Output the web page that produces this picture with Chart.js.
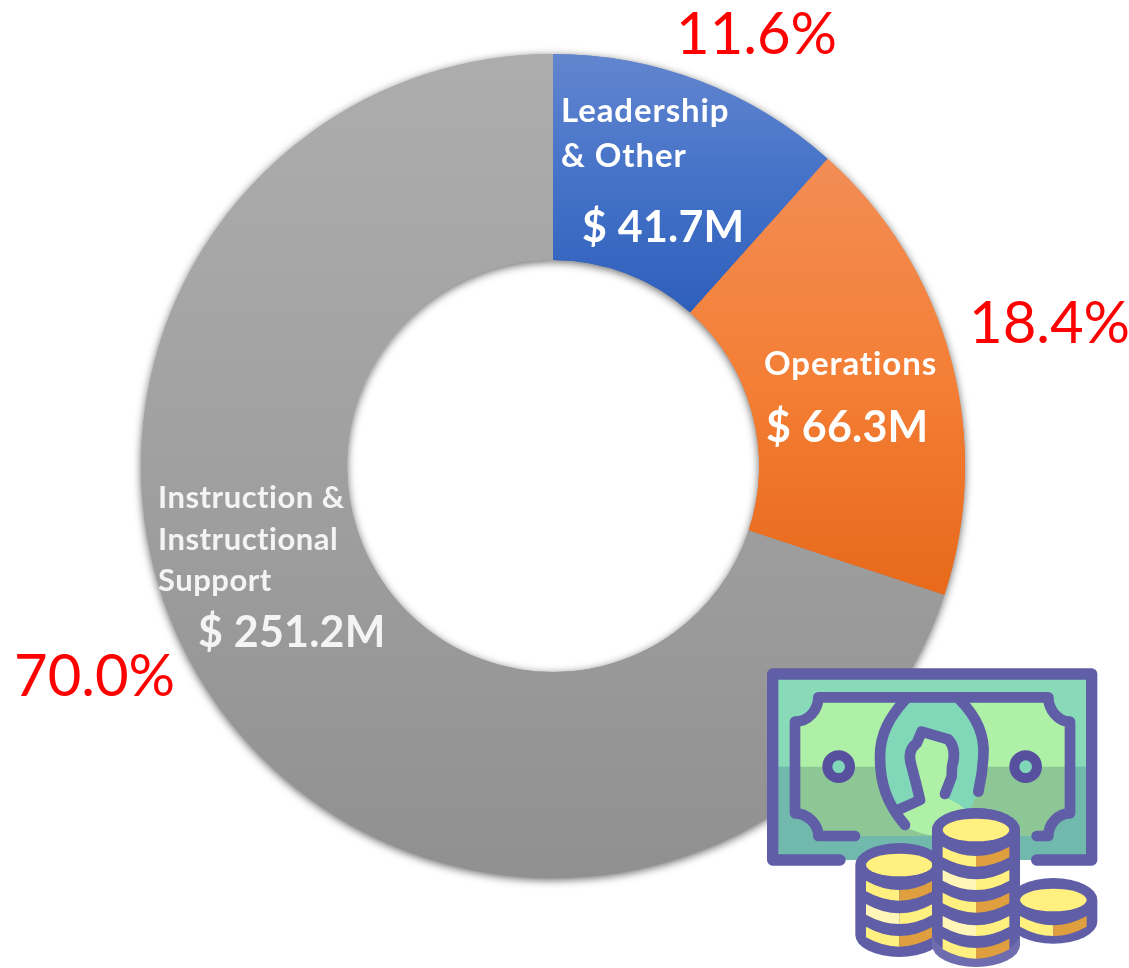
<!DOCTYPE html>
<html>
<head>
<meta charset="utf-8">
<title>Budget by category</title>
<script src="https://cdn.jsdelivr.net/npm/chart.js@4"></script>
<style>
  body { margin: 0; background: #fff; overflow: hidden; }
  #wrap { position: relative; width: 1129px; height: 968px; }
  #moneyIcon { position: absolute; left: 740px; top: 650px; }
</style>
</head>
<body>
<div id="wrap">
  <canvas id="budgetChart" width="1129" height="968"></canvas>
  <svg id="moneyIcon" width="380" height="318" viewBox="0 0 1140 954"></svg>
</div>
<script>
// chart values
const categories = ['Leadership & Other', 'Operations', 'Instruction & Instructional Support'];
const amounts = [41.7, 66.3, 251.2];
const amountLabels = ['$ 41.7M', '$ 66.3M', '$ 251.2M'];
const shareLabels = ['11.6%', '18.4%', '70.0%'];
const categoryLines = [['Leadership', '& Other'], ['Operations'], ['Instruction &', 'Instructional', 'Support']];

// slice gradients: top y, bottom y, top, middle and bottom colour
const sliceFills = [
  [54, 312, '#6285ce', '#4472c8', '#2e5fbb'],
  [158, 596, '#f28d55', '#f47f36', '#e8691a'],
  [54, 880, '#adadad', '#a0a0a0', '#909090']
];

// where the text goes
const linePlaces = [
  [[561, 122], [561, 167]],
  [[764, 375]],
  [[158, 508], [158, 550], [158, 591]]
];
const amountPlaces = [[582, 242], [766, 442], [198, 647]];
const sharePlaces = [[676, 54], [969, 343], [14, 696]];

const softShadow = {
  id: 'softShadow',
  beforeDatasetsDraw(chart) {
    const ctx = chart.ctx;
    ctx.save();
    ctx.shadowColor = 'rgba(0,0,0,0.6)';
    ctx.shadowBlur = 9;
    ctx.shadowOffsetY = 2;
    chart.getDatasetMeta(0).data.forEach(arc => arc.draw(ctx));
    ctx.restore();
  }
};

const sliceText = {
  id: 'sliceText',
  afterDatasetsDraw(chart) {
    const ctx = chart.ctx;
    ctx.save();
    ctx.textAlign = 'left';
    ctx.textBaseline = 'alphabetic';
    categories.forEach((name, i) => {
      ctx.fillStyle = i == 2 ? '#f4f4f4' : '#fff';
      ctx.font = i == 2 ? 'bold 31px Lato' : 'bold 33px Lato';
      ctx.letterSpacing = i == 2 ? '0.5px' : '0.9px';
      categoryLines[i].forEach((line, j) => {
        ctx.fillText(line, linePlaces[i][j][0], linePlaces[i][j][1]);
      });
      ctx.font = 'bold 43px Lato';
      ctx.letterSpacing = '0.2px';
      ctx.fillText(amountLabels[i], amountPlaces[i][0], amountPlaces[i][1]);
      ctx.fillStyle = '#ff0000';
      ctx.font = '58px Lato';
      ctx.letterSpacing = '0px';
      ctx.fillText(shareLabels[i], sharePlaces[i][0], sharePlaces[i][1]);
    });
    ctx.restore();
  }
};

const ctx = document.getElementById('budgetChart').getContext('2d');
const chart = new Chart(ctx, {
  type: 'doughnut',
  data: {
    labels: categories,
    datasets: [{
      data: amounts,
      borderWidth: 0,
      backgroundColor: function(c) {
        const f = sliceFills[c.dataIndex];
        if (!f) return '#999';
        const g = ctx.createLinearGradient(0, f[0], 0, f[1]);
        g.addColorStop(0, f[2]);
        g.addColorStop(0.5, f[3]);
        g.addColorStop(1, f[4]);
        return g;
      }
    }]
  },
  options: {
    responsive: false,
    animation: false,
    cutout: '50%',
    layout: { padding: { left: 141, right: 164, top: 54, bottom: 90 } },
    plugins: { legend: { display: false }, tooltip: { enabled: false } }
  },
  plugins: [softShadow, sliceText]
});

// money icon, drawn in the crop's 3x coordinates
const ink = '#5f5ea6';
function band(cx, y, left, right) {
  return `<path fill="${left}" d="M${cx - 100} ${y}Q${cx - 50} ${y + 28} ${cx} ${y + 28}V${y + 60}Q${cx - 50} ${y + 60} ${cx - 100} ${y + 32}Z"/>` +
    `<path fill="${right}" d="M${cx + 100} ${y}Q${cx + 50} ${y + 28} ${cx} ${y + 28}V${y + 60}Q${cx + 50} ${y + 60} ${cx + 100} ${y + 32}Z"/>`;
}
function silhouette(cx, top, bottom, colour) {
  return `<path fill="${colour}" d="M${cx - 132} ${top}A132 66 0 0 1 ${cx + 132} ${top}V${bottom}A132 66 0 0 1 ${cx - 132} ${bottom}Z"/>`;
}
function stack(cx, top, bottom, bands) {
  let s = silhouette(cx, top, bottom, ink);
  s += `<ellipse cx="${cx}" cy="${top}" rx="100" ry="34" fill="#fff07f"/>`;
  bands.forEach(b => { s += band(cx, b[0], b[1], b[2]); });
  return s;
}
const yellow = '#fff07f', orange = '#e09f3e', pale = '#fff6b8';
document.getElementById('moneyIcon').innerHTML = `
  <rect x="98" y="72" width="957" height="558" fill="#88dab8"/>
  <rect x="98" y="350" width="957" height="280" fill="#70b9ac"/>
  <path d="M345 558H235C235 520 200 490 165 490V215C205 215 235 180 235 142H925C925 180 955 215 990 215V490C955 490 925 520 925 558H890V558H345Z" fill="#aef0a5"/>
  <path d="M165 350H990V490C955 490 925 520 925 558H235C235 520 200 490 165 490Z" fill="#8cc795"/>
  <path d="M495 530C440 460 420 400 420 320C420 250 450 200 495 150H660C710 200 735 260 730 320C728 360 722 395 715 425L690 480L560 500Z" fill="#80d8b8"/>
  <path d="M475 480L540 440L515 350C510 320 510 295 545 260L630 270C645 295 645 330 635 380L615 440L660 465L700 500V556H570C540 550 515 540 495 530Z" fill="#aef0a5"/>
  <g fill="none" stroke="${ink}" stroke-linecap="round" stroke-linejoin="round">
    <path stroke-width="34" d="M300 630H98V72H1055V630H890"/>
    <path stroke-width="32" d="M345 558H235C235 520 200 490 165 490V215C205 215 235 180 235 142H925C925 180 955 215 990 215V490C955 490 925 520 925 558H890"/>
    <path stroke-width="32" d="M495 525C440 460 420 400 420 320C420 250 450 200 495 150M660 150C710 200 735 260 730 320C728 360 722 395 715 425"/>
    <path stroke-width="32" d="M478 478L540 450L528 400L515 350C505 320 510 295 530 280L545 245L625 268C645 290 645 320 636 350L635 380L615 432"/>
    <circle cx="296" cy="350" r="34" stroke="#56509f" stroke-width="30" fill="#80d8b8"/>
    <circle cx="857" cy="350" r="34" stroke="#56509f" stroke-width="30" fill="#80d8b8"/>
  </g>
  ${stack(478, 645, 855, [[692, yellow, orange], [762, pale, yellow], [830, yellow, orange]])}
  ${stack(940, 750, 815, [[798, yellow, orange]])}
  ${silhouette(708, 540, 885, '#706dae')}
  ${stack(708, 540, 850, [[590, yellow, orange], [660, pale, yellow], [728, yellow, orange], [798, pale, yellow], [866, yellow, orange]])}
`;
</script>
</body>
</html>
